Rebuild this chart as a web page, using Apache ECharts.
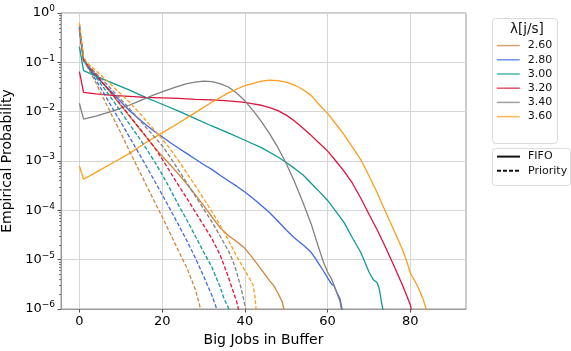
<!DOCTYPE html>
<html>
<head>
<meta charset="utf-8">
<script src="https://cdn.jsdelivr.net/npm/echarts@6/dist/echarts.min.js"></script>
<style>
  html, body { margin: 0; padding: 0; background: #fff; }
  #chart { width: 571px; height: 351px; }
</style>
</head>
<body>
<div id="chart"></div>
<script>
// Arrival rates (jobs/s) and their colours
const lambdas = ['2.60', '2.80', '3.00', '3.20', '3.40', '3.60'];
const colors = ['#CD853F', '#4169E1', '#0E9A94', '#DC143C', '#808080', '#FF9D1C'];
const xTicks = [0, 20, 40, 60, 80];

// Each point: [big jobs in buffer, log10(empirical probability)]
// FIFO scheduling
const fifo260 = [[0,-0.27],[1,-0.93],[2,-1.06],[4,-1.26],[6,-1.46],[8,-1.66],[10,-1.87],[12,-2.08],[14,-2.29],[16,-2.5],[18,-2.71],[20,-2.9],[22,-3.08],[24,-3.27],[26,-3.47],[28,-3.68],[30,-3.9],[32,-4.13],[34,-4.35],[36,-4.51],[38,-4.63],[40,-4.77],[42,-4.98],[44,-5.2],[46,-5.43],[47,-5.53],[48,-5.68],[49,-5.85],[50,-6.2]];
const fifo280 = [[0,-0.3],[1,-0.95],[2,-1.1],[3,-1.2],[4,-1.28],[6,-1.45],[8,-1.62],[10,-1.8],[12,-1.97],[14,-2.12],[16,-2.26],[18,-2.39],[20,-2.51],[22,-2.63],[24,-2.74],[26,-2.85],[28,-2.96],[30,-3.07],[32,-3.17],[34,-3.29],[36,-3.4],[38,-3.51],[40,-3.63],[42,-3.76],[44,-3.9],[46,-4.05],[48,-4.22],[50,-4.4],[52,-4.56],[54,-4.7],[55,-4.77],[56,-4.85],[57,-4.97],[58,-5.1],[59,-5.23],[60,-5.37],[61,-5.5],[61.5,-5.52],[62,-5.62],[63,-5.8],[64,-6.2]];
const fifo300 = [[0,-0.68],[1,-1.17],[4,-1.28],[8,-1.42],[12,-1.56],[16,-1.71],[20,-1.85],[24,-1.99],[28,-2.14],[32,-2.29],[36,-2.43],[40,-2.58],[44,-2.73],[48,-2.92],[50,-3.03],[52,-3.15],[54,-3.28],[56,-3.45],[58,-3.62],[60,-3.8],[62,-4.02],[64,-4.25],[66,-4.56],[68,-4.85],[70,-5.25],[71,-5.4],[72,-5.47],[72.5,-5.6],[73,-5.85],[74,-6.3]];
const fifo320 = [[0,-1.19],[1,-1.61],[2,-1.62],[4,-1.64],[8,-1.67],[12,-1.69],[16,-1.71],[20,-1.72],[24,-1.73],[28,-1.75],[32,-1.76],[36,-1.78],[40,-1.81],[42,-1.84],[44,-1.87],[46,-1.92],[48,-1.98],[50,-2.07],[52,-2.19],[54,-2.33],[56,-2.48],[58,-2.64],[60,-2.8],[62,-3.0],[64,-3.21],[66,-3.45],[68,-3.75],[70,-4.08],[72,-4.4],[74,-4.75],[76,-5.12],[78,-5.5],[79,-5.7],[80,-5.92],[81,-6.3]];
const fifo340 = [[0,-1.83],[1,-2.15],[2,-2.13],[4,-2.09],[6,-2.04],[8,-1.99],[10,-1.93],[12,-1.87],[14,-1.8],[16,-1.73],[18,-1.66],[20,-1.6],[22,-1.54],[24,-1.48],[26,-1.43],[28,-1.4],[30,-1.38],[32,-1.39],[34,-1.43],[36,-1.5],[38,-1.62],[40,-1.78],[42,-1.98],[44,-2.2],[46,-2.45],[48,-2.73],[50,-3.05],[52,-3.42],[54,-3.83],[56,-4.27],[58,-4.8],[59,-5.05],[60,-5.25],[61,-5.4],[62,-5.62],[63,-5.85],[64,-6.3]];
const fifo360 = [[0,-3.1],[1,-3.37],[4,-3.23],[8,-3.04],[12,-2.85],[16,-2.63],[20,-2.43],[24,-2.23],[28,-2.02],[32,-1.81],[36,-1.62],[40,-1.47],[44,-1.38],[46,-1.36],[48,-1.37],[50,-1.4],[52,-1.46],[54,-1.55],[56,-1.67],[58,-1.86],[60,-2.04],[62,-2.25],[64,-2.47],[66,-2.72],[68,-2.97],[70,-3.3],[72,-3.65],[74,-4.03],[76,-4.4],[78,-4.78],[79,-5.0],[80,-5.27],[81,-5.42],[82,-5.58],[83,-5.78],[84,-6.05]];

// Priority scheduling
const prio260 = [[0,-0.22],[1,-0.92],[2,-1.1],[4,-1.42],[6,-1.76],[8,-2.1],[10,-2.43],[12,-2.78],[14,-3.12],[16,-3.46],[18,-3.8],[20,-4.13],[22,-4.48],[24,-4.83],[26,-5.17],[28,-5.6],[29,-5.9],[30,-6.3]];
const prio280 = [[0,-0.26],[1,-0.93],[2,-1.08],[4,-1.36],[6,-1.64],[8,-1.93],[10,-2.21],[12,-2.5],[14,-2.79],[16,-3.08],[18,-3.38],[20,-3.68],[22,-3.99],[24,-4.3],[26,-4.62],[28,-4.96],[30,-5.33],[32,-5.72],[33,-5.95],[34,-6.3]];
const prio300 = [[0,-0.3],[1,-0.95],[2,-1.07],[4,-1.3],[6,-1.53],[8,-1.76],[10,-2.0],[12,-2.24],[14,-2.48],[16,-2.73],[18,-2.99],[20,-3.27],[22,-3.58],[24,-3.9],[26,-4.2],[28,-4.52],[30,-4.84],[32,-5.15],[34,-5.55],[35,-5.8],[36,-5.97],[37,-6.4]];
const prio320 = [[0,-0.33],[1,-0.96],[2,-1.06],[4,-1.25],[6,-1.45],[8,-1.65],[10,-1.86],[12,-2.07],[14,-2.28],[16,-2.49],[18,-2.71],[20,-2.96],[22,-3.23],[24,-3.5],[26,-3.76],[28,-4.03],[30,-4.3],[32,-4.57],[34,-4.9],[36,-5.35],[37,-5.6],[38,-5.85],[39,-6.2]];
const prio340 = [[0,-0.36],[1,-0.97],[2,-1.05],[4,-1.22],[6,-1.39],[8,-1.57],[10,-1.75],[12,-1.93],[14,-2.12],[16,-2.31],[18,-2.5],[20,-2.69],[22,-2.93],[24,-3.19],[26,-3.45],[28,-3.71],[30,-3.97],[32,-4.23],[34,-4.52],[36,-4.82],[37,-5.0],[38,-5.25],[39,-5.55],[40,-5.92],[41,-6.3]];
const prio360 = [[0,-0.2],[1,-0.9],[2,-1.02],[4,-1.17],[6,-1.32],[8,-1.48],[10,-1.64],[12,-1.8],[14,-1.98],[16,-2.17],[18,-2.36],[20,-2.55],[22,-2.76],[24,-3.0],[26,-3.25],[28,-3.5],[30,-3.76],[32,-4.02],[34,-4.3],[36,-4.6],[38,-4.93],[40,-5.22],[41,-5.36],[42,-5.52],[42.5,-5.8],[43,-6.3]];

const fifoSets = [fifo260, fifo280, fifo300, fifo320, fifo340, fifo360];
const prioSets = [prio260, prio280, prio300, prio320, prio340, prio360];

const toProb = pts => pts.map(p => [p[0], Math.pow(10, p[1])]);
const FONT = 'DejaVu Sans';

const series = [];
lambdas.forEach((name, i) => {
  series.push({
    name, type: 'line', data: toProb(fifoSets[i]), symbol: 'none', clip: true,
    lineStyle: { color: colors[i], width: 1.3 }, itemStyle: { color: colors[i] },
    emphasis: { disabled: true }, z: 3
  });
});
lambdas.forEach((name, i) => {
  series.push({
    name, type: 'line', data: toProb(prioSets[i]), symbol: 'none', clip: true,
    lineStyle: { color: colors[i], width: 1.3, type: [4, 2] }, itemStyle: { color: colors[i] },
    emphasis: { disabled: true }, z: 3
  });
});
// Style-only entries for the scheduling legend
series.push({ name: 'FIFO', type: 'line', data: [], symbol: 'none',
  lineStyle: { color: '#111', width: 1.3 }, itemStyle: { color: '#111' } });
series.push({ name: 'Priority', type: 'line', data: [], symbol: 'none',
  lineStyle: { color: '#111', width: 1.3, type: [4, 2] }, itemStyle: { color: '#111' } });

const minorVals = [];
for (let k = -6; k < 0; k++) for (let m = 2; m <= 9; m++) minorVals.push(m * Math.pow(10, k));

const supLabel = v => {
  const e = Math.round(Math.log10(v));
  return '{b|10}{s|' + (e < 0 ? '\u2212' + (-e) : e) + '}';
};

const legendText = { fontSize: 11, color: '#111', fontFamily: FONT, padding: [0, 0, 0, 3] };

const chart = echarts.init(document.getElementById('chart'), null, { renderer: 'canvas' });
chart.setOption({
  animation: false,
  backgroundColor: '#fff',
  textStyle: { fontFamily: FONT },
  grid: {
    left: 61, right: 105, top: 13, bottom: 42, containLabel: false, outerBoundsMode: 'none',
    show: true, borderColor: '#999', borderWidth: 1, backgroundColor: 'transparent'
  },
  xAxis: {
    type: 'value', min: -4.45, max: 93.45, splitNumber: 5,
    name: 'Big Jobs in Buffer', nameLocation: 'middle', nameGap: 17,
    nameTextStyle: { fontSize: 14, color: '#000', fontFamily: FONT },
    axisLine: { show: true, onZero: false, lineStyle: { color: '#999' } },
    axisTick: { show: true, length: 3.5, lineStyle: { color: '#555' }, customValues: xTicks },
    axisLabel: { fontSize: 13, color: '#000', margin: 6, fontFamily: FONT, customValues: xTicks },
    splitLine: { show: true, lineStyle: { color: '#d6d6d6', width: 1 } }
  },
  yAxis: [{
    type: 'log', logBase: 10, min: 1e-6, max: 1, splitNumber: 6,
    name: 'Empirical Probability', nameLocation: 'middle', nameGap: 38,
    nameTextStyle: { fontSize: 14, color: '#000', fontFamily: FONT },
    axisLine: { show: true, onZero: false, lineStyle: { color: '#999' } },
    axisTick: { show: true, length: 3.5, lineStyle: { color: '#555' } },
    axisLabel: {
      margin: 6, formatter: supLabel,
      rich: {
        b: { fontSize: 13, color: '#000', fontFamily: FONT },
        s: { fontSize: 9, color: '#000', fontFamily: FONT, padding: [0, 0, 8, 0] }
      }
    },
    splitLine: { show: true, lineStyle: { color: '#d6d6d6', width: 1 } }
  }, {
    type: 'log', logBase: 10, min: 1e-6, max: 1, position: 'left',
    axisLine: { show: false, onZero: false },
    axisTick: { show: true, length: 2, lineStyle: { color: '#777' }, customValues: minorVals },
    axisLabel: { show: false },
    splitLine: { show: false }
  }],
  legend: [{
    data: lambdas, orient: 'vertical', left: 496, top: 40, padding: 0,
    itemWidth: 23, itemHeight: 14, itemGap: 3,
    textStyle: legendText,
    itemStyle: { opacity: 0 },
    lineStyle: { opacity: 0.75, width: 1.5 },
    selectedMode: false
  }, {
    data: ['FIFO', 'Priority'], orient: 'vertical', left: 496, top: 151, padding: 0,
    itemWidth: 23, itemHeight: 14, itemGap: 3,
    textStyle: legendText,
    itemStyle: { opacity: 0 },
    selectedMode: false
  }],
  graphic: [
    { type: 'rect', left: 492, top: 18, z: -1, shape: { width: 65, height: 125, r: 3 },
      style: { fill: '#fff', stroke: '#dcdcdc', lineWidth: 1 } },
    { type: 'rect', left: 492, top: 148, z: -1, shape: { width: 78, height: 37, r: 3 },
      style: { fill: '#fff', stroke: '#dcdcdc', lineWidth: 1 } },
    { type: 'text', left: 510, top: 22, style: { text: '\u03bb[j/s]', fontSize: 13.5, fill: '#111', fontFamily: FONT } }
  ],
  series
});
</script>
</body>
</html>
